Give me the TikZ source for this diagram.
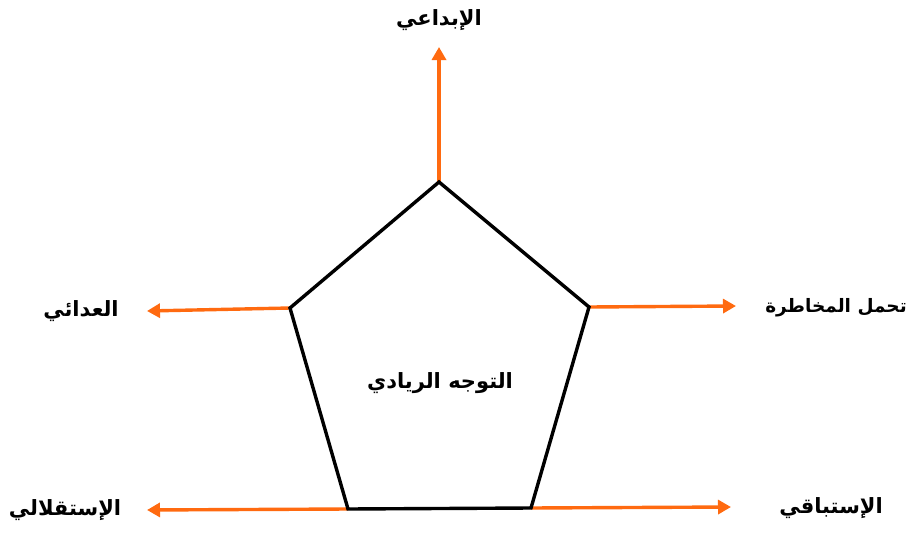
\documentclass[tikz,border=0pt]{standalone}
\usepackage{fontspec}
\TeXXeTstate=1
\newfontfamily\arabicfont[Script=Arabic]{DejaVu Sans}
\usetikzlibrary{arrows.meta}
\definecolor{arroworange}{HTML}{FF6A10}
\tikzset{
  side/.style={draw=black, line width=3.4pt, line join=miter},
  axis/.style={draw=arroworange, line width=3.4pt, -{Triangle[length=13pt,width=14pt]}},
  lbl/.style={font=\arabicfont\bfseries\fontsize{21}{24}\selectfont, inner sep=0pt},
}
\begin{document}
\begin{tikzpicture}[x=1pt,y=-1pt]
\useasboundingbox (0,0) rectangle (916,538);
\coordinate (T) at (439,182);
\coordinate (UL) at (290,308);
\coordinate (UR) at (589,307);
\coordinate (LL) at (348,509);
\coordinate (LR) at (531,508);
\coordinate (tT) at (439,47);
\coordinate (tUL) at (147,311);
\coordinate (tUR) at (736,306);
\coordinate (tLL) at (147,510);
\coordinate (tLR) at (731,507);
\draw[axis] (T) -- (tT);
\draw[axis] (UL) -- (tUL);
\draw[axis] (UR) -- (tUR);
\draw[axis] (LL) -- (tLL);
\draw[axis] (LR) -- (tLR);
\draw[side] (T) -- (UR) -- (LR) -- (LL) -- (UL) -- cycle;
\node[lbl] (center) at (440,383) {\beginR التوجه الريادي\endR};
\node[lbl] (ltop) at (439,20) {\beginR الإبداعي\endR};
\node[lbl] (lul) at (81,311) {\beginR العدائي\endR};
\node[lbl, font=\arabicfont\bfseries\fontsize{18.5}{22}\selectfont] (lur) at (836,308) {\beginR تحمل المخاطرة\endR};
\node[lbl] (lll) at (65,510) {\beginR الإستقلالي\endR};
\node[lbl] (llr) at (831,508) {\beginR الإستباقي\endR};
\end{tikzpicture}
\end{document}
